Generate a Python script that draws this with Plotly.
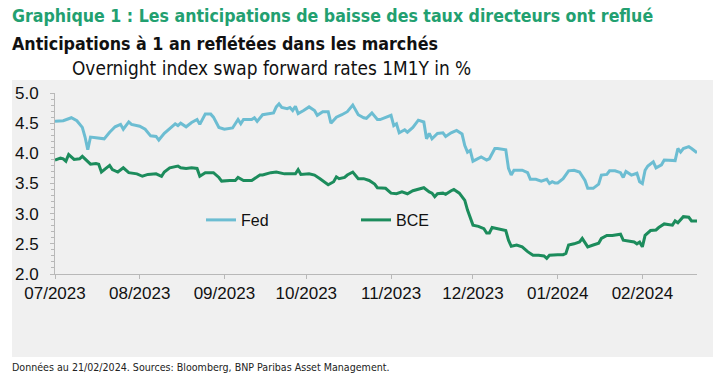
import plotly.graph_objects as go

# ---------------- data ----------------
fed_dates = [
    "2023-07-01", "2023-07-04", "2023-07-07", "2023-07-09", "2023-07-11", "2023-07-12", "2023-07-13",
    "2023-07-14", "2023-07-16", "2023-07-19", "2023-07-21", "2023-07-23", "2023-07-25", "2023-07-26",
    "2023-07-28", "2023-07-29", "2023-08-01", "2023-08-03", "2023-08-05", "2023-08-07", "2023-08-08",
    "2023-08-10", "2023-08-12", "2023-08-14", "2023-08-15", "2023-08-16", "2023-08-18", "2023-08-20",
    "2023-08-22", "2023-08-23", "2023-08-25", "2023-08-27", "2023-08-28", "2023-08-30", "2023-09-01",
    "2023-09-03", "2023-09-04", "2023-09-06", "2023-09-07", "2023-09-08", "2023-09-11", "2023-09-12",
    "2023-09-13", "2023-09-15", "2023-09-17", "2023-09-19", "2023-09-20", "2023-09-21", "2023-09-22",
    "2023-09-24", "2023-09-25", "2023-09-26", "2023-09-27", "2023-09-28", "2023-09-30", "2023-10-02",
    "2023-10-04", "2023-10-05", "2023-10-07", "2023-10-09", "2023-10-10", "2023-10-12", "2023-10-14",
    "2023-10-16", "2023-10-18", "2023-10-20", "2023-10-22", "2023-10-23", "2023-10-25", "2023-10-27",
    "2023-10-28", "2023-10-30", "2023-11-01", "2023-11-02", "2023-11-03", "2023-11-04", "2023-11-06",
    "2023-11-07", "2023-11-09", "2023-11-11", "2023-11-13", "2023-11-14", "2023-11-15", "2023-11-16",
    "2023-11-18", "2023-11-20", "2023-11-21", "2023-11-23", "2023-11-25", "2023-11-27", "2023-11-28",
    "2023-11-29", "2023-11-30", "2023-12-01", "2023-12-03", "2023-12-04", "2023-12-06", "2023-12-07",
    "2023-12-09", "2023-12-10", "2023-12-13", "2023-12-14", "2023-12-15", "2023-12-16", "2023-12-19",
    "2023-12-21", "2023-12-22", "2023-12-24", "2023-12-26", "2023-12-28", "2023-12-29", "2023-12-30",
    "2023-12-31", "2024-01-01", "2024-01-03", "2024-01-05", "2024-01-07", "2024-01-09", "2024-01-11",
    "2024-01-12", "2024-01-14", "2024-01-16", "2024-01-17", "2024-01-19", "2024-01-20", "2024-01-22",
    "2024-01-24", "2024-01-25", "2024-01-26", "2024-01-28", "2024-01-30", "2024-01-31", "2024-02-01",
    "2024-02-02", "2024-02-03", "2024-02-05", "2024-02-06", "2024-02-08", "2024-02-09", "2024-02-12",
    "2024-02-13", "2024-02-14", "2024-02-15", "2024-02-16", "2024-02-18", "2024-02-19", "2024-02-21",
]
fed_values = [
    4.53, 4.54, 4.59, 4.54, 4.43, 4.27, 4.06,
    4.27, 4.26, 4.24, 4.35, 4.44, 4.48, 4.40,
    4.52, 4.48, 4.45, 4.40, 4.29, 4.28, 4.22,
    4.33, 4.41, 4.49, 4.46, 4.50, 4.44, 4.51,
    4.56, 4.48, 4.65, 4.65, 4.60, 4.43, 4.40,
    4.42, 4.42, 4.56, 4.49, 4.56, 4.56, 4.59,
    4.53, 4.64, 4.66, 4.67, 4.77, 4.82, 4.76,
    4.74, 4.76, 4.71, 4.78, 4.66, 4.71, 4.77,
    4.71, 4.63, 4.69, 4.69, 4.50, 4.60, 4.64,
    4.69, 4.80, 4.64, 4.59, 4.58, 4.67, 4.56,
    4.56, 4.60, 4.63, 4.46, 4.49, 4.34, 4.39,
    4.35, 4.43, 4.55, 4.52, 4.24, 4.33, 4.24,
    4.33, 4.34, 4.28, 4.34, 4.38, 4.32, 4.13,
    4.02, 4.05, 3.87, 3.91, 3.94, 3.89, 3.91,
    4.08, 4.08, 4.06, 3.75, 3.64, 3.72, 3.72,
    3.68, 3.57, 3.57, 3.54, 3.57, 3.50, 3.53,
    3.51, 3.51, 3.58, 3.71, 3.72, 3.69, 3.55,
    3.42, 3.42, 3.49, 3.64, 3.65, 3.71, 3.71,
    3.68, 3.60, 3.70, 3.64, 3.67, 3.53, 3.50,
    3.72, 3.79, 3.86, 3.76, 3.81, 3.89, 3.89,
    3.88, 4.08, 4.02, 4.08, 4.11, 4.08, 4.01,
]

bce_dates = [
    "2023-07-01", "2023-07-03", "2023-07-04", "2023-07-05", "2023-07-06", "2023-07-08", "2023-07-10",
    "2023-07-11", "2023-07-14", "2023-07-16", "2023-07-17", "2023-07-18", "2023-07-21", "2023-07-22",
    "2023-07-24", "2023-07-26", "2023-07-28", "2023-07-31", "2023-08-02", "2023-08-04", "2023-08-07",
    "2023-08-09", "2023-08-10", "2023-08-12", "2023-08-15", "2023-08-16", "2023-08-18", "2023-08-20",
    "2023-08-22", "2023-08-23", "2023-08-25", "2023-08-28", "2023-08-30", "2023-08-31", "2023-09-03",
    "2023-09-05", "2023-09-06", "2023-09-08", "2023-09-11", "2023-09-12", "2023-09-14", "2023-09-15",
    "2023-09-18", "2023-09-20", "2023-09-23", "2023-09-25", "2023-09-27", "2023-09-28", "2023-09-29",
    "2023-10-02", "2023-10-04", "2023-10-06", "2023-10-09", "2023-10-11", "2023-10-12", "2023-10-13",
    "2023-10-15", "2023-10-16", "2023-10-18", "2023-10-20", "2023-10-22", "2023-10-24", "2023-10-26",
    "2023-10-27", "2023-10-30", "2023-11-01", "2023-11-03", "2023-11-05", "2023-11-07", "2023-11-09",
    "2023-11-11", "2023-11-13", "2023-11-15", "2023-11-16", "2023-11-17", "2023-11-18", "2023-11-20",
    "2023-11-21", "2023-11-23", "2023-11-24", "2023-11-26", "2023-11-28", "2023-11-29", "2023-11-30",
    "2023-12-01", "2023-12-03", "2023-12-05", "2023-12-06", "2023-12-07", "2023-12-08", "2023-12-10",
    "2023-12-13", "2023-12-14", "2023-12-15", "2023-12-17", "2023-12-19", "2023-12-21", "2023-12-23",
    "2023-12-25", "2023-12-27", "2023-12-28", "2023-12-29", "2024-01-01", "2024-01-03", "2024-01-04",
    "2024-01-05", "2024-01-07", "2024-01-09", "2024-01-10", "2024-01-12", "2024-01-14", "2024-01-16",
    "2024-01-17", "2024-01-19", "2024-01-21", "2024-01-24", "2024-01-25", "2024-01-27", "2024-01-29",
    "2024-01-30", "2024-01-31", "2024-02-01", "2024-02-02", "2024-02-04", "2024-02-06", "2024-02-07",
    "2024-02-09", "2024-02-12", "2024-02-13", "2024-02-14", "2024-02-16", "2024-02-18", "2024-02-19",
    "2024-02-21",
]
bce_values = [
    3.89, 3.92, 3.91, 3.87, 3.98, 3.90, 3.91,
    3.95, 3.82, 3.83, 3.82, 3.69, 3.80, 3.73,
    3.69, 3.76, 3.68, 3.66, 3.62, 3.65, 3.66,
    3.62, 3.69, 3.76, 3.79, 3.76, 3.75, 3.76,
    3.75, 3.62, 3.68, 3.68, 3.60, 3.54, 3.55,
    3.55, 3.60, 3.55, 3.55, 3.58, 3.64, 3.64,
    3.68, 3.69, 3.66, 3.66, 3.66, 3.73, 3.65,
    3.66, 3.64, 3.58, 3.48, 3.53, 3.61, 3.58,
    3.60, 3.64, 3.69, 3.58, 3.58, 3.55, 3.49,
    3.43, 3.42, 3.34, 3.33, 3.36, 3.33, 3.38,
    3.41, 3.43, 3.36, 3.34, 3.28, 3.33, 3.34,
    3.32, 3.38, 3.40, 3.34, 3.22, 3.06, 2.92,
    2.81, 2.79, 2.75, 2.68, 2.68, 2.77, 2.75,
    2.72, 2.56, 2.46, 2.48, 2.45, 2.37, 2.31,
    2.31, 2.30, 2.26, 2.31, 2.32, 2.32, 2.34,
    2.48, 2.50, 2.53, 2.59, 2.45, 2.48, 2.51,
    2.59, 2.64, 2.64, 2.66, 2.56, 2.55, 2.53,
    2.50, 2.53, 2.45, 2.64, 2.72, 2.73, 2.77,
    2.83, 2.81, 2.88, 2.85, 2.95, 2.94, 2.88,
    2.88,
]

month_ticks = ["2023-07-01", "2023-08-01", "2023-09-01", "2023-10-01", "2023-11-01",
               "2023-12-01", "2024-01-01", "2024-02-01"]
month_labels = ["07/2023", "08/2023", "09/2023", "10/2023", "11/2023",
                "12/2023", "01/2024", "02/2024"]
y_ticks = [2.0, 2.5, 3.0, 3.5, 4.0, 4.5, 5.0]

title_text = "Graphique 1 : Les anticipations de baisse des taux directeurs ont reflué"
subtitle_text = "Anticipations à 1 an reflétées dans les marchés"
unit_text = "Overnight index swap forward rates 1M1Y in %"
source_text = "Données au 21/02/2024. Sources: Bloomberg, BNP Paribas Asset Management."

# ---------------- layout helpers ----------------
W, H = 725, 383
L, R, T, B = 55, 28, 93, 109
PW, PH = W - L - R, H - T - B


def px(x):
    return (x - L) / PW


def py(y):
    return (H - B - y) / PH


NARROW = "DejaVu Sans Condensed, Liberation Sans Narrow, sans-serif"
SANS = "Liberation Sans, Arial, sans-serif"
FED_COLOR = "#6cbdd2"
BCE_COLOR = "#1c8c5c"
GREEN_TITLE = "#22a070"
BG = "#f0f0f0"
AXIS = "#b8b8b8"

fig = go.Figure()
fig.add_trace(go.Scatter(x=fed_dates, y=fed_values, mode="lines", name="Fed",
                         line=dict(color=FED_COLOR, width=3)))
fig.add_trace(go.Scatter(x=bce_dates, y=bce_values, mode="lines", name="BCE",
                         line=dict(color=BCE_COLOR, width=3)))

fig.update_layout(
    width=W, height=H,
    margin=dict(l=L, r=R, t=T, b=B, autoexpand=False),
    paper_bgcolor="white",
    plot_bgcolor=BG,
    showlegend=True,
    legend=dict(
        orientation="h", x=px(201), y=py(220), xanchor="left", yanchor="middle",
        bgcolor="rgba(0,0,0,0)", font=dict(family=SANS, size=16, color="#111"),
        entrywidth=110, entrywidthmode="pixels", itemwidth=30,
    ),
    xaxis=dict(
        type="date", range=["2023-07-01", "2024-02-21"],
        tickvals=month_ticks, ticktext=month_labels,
        showgrid=False, zeroline=False,
        showline=True, linecolor=AXIS, linewidth=1,
        ticks="outside", ticklen=4, tickcolor=AXIS,
        tickfont=dict(family=SANS, size=17, color="#111"),
    ),
    yaxis=dict(
        range=[2, 5], tickvals=y_ticks, tickformat=".1f",
        showgrid=False, zeroline=False,
        showline=True, linecolor=AXIS, linewidth=1,
        ticks="outside", ticklen=4, tickcolor=AXIS,
        ticklabelstandoff=8,
        minor=dict(dtick=0.1, ticks="outside", ticklen=3, tickcolor=AXIS, showgrid=False),
        tickfont=dict(family=SANS, size=17, color="#111"),
    ),
    shapes=[dict(type="rect", xref="paper", yref="paper",
                 x0=px(12), x1=px(713), y0=py(357), y1=py(80),
                 fillcolor=BG, line=dict(width=0), layer="below")],
    annotations=[
        dict(text="<b>" + title_text + "</b>", xref="paper", yref="paper",
             x=px(10), y=py(16), xanchor="left", yanchor="middle", showarrow=False,
             font=dict(family=NARROW, size=17.6, color=GREEN_TITLE)),
        dict(text="<b>" + subtitle_text + "</b>", xref="paper", yref="paper",
             x=px(10), y=py(44), xanchor="left", yanchor="middle", showarrow=False,
             font=dict(family=NARROW, size=17.7, color="#111")),
        dict(text=unit_text, xref="paper", yref="paper",
             x=px(70), y=py(68), xanchor="left", yanchor="middle", showarrow=False,
             font=dict(family=NARROW, size=18.9, color="#111")),
        dict(text=source_text, xref="paper", yref="paper",
             x=px(10), y=py(367), xanchor="left", yanchor="middle", showarrow=False,
             font=dict(family=NARROW, size=10.6, color="#222")),
    ],
)

fig.write_html("out.html", config={"displayModeBar": False},
               post_script="document.body.style.margin='0';document.body.style.padding='0';")
